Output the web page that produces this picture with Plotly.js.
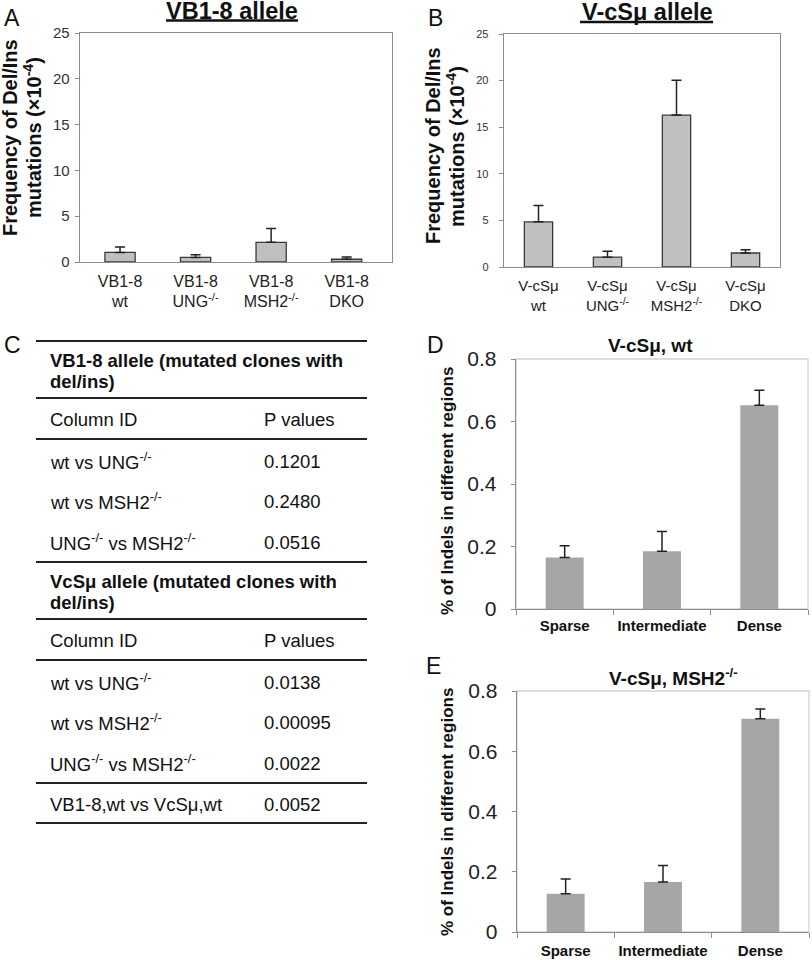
<!DOCTYPE html>
<html>
<head>
<meta charset="utf-8">
<script src="https://cdn.plot.ly/plotly-3.0.1.min.js"></script>
<style>html,body{margin:0;padding:0;background:#fff;}#chart{width:812px;height:960px;}</style>
</head>
<body>
<div id="chart"></div>
<script>
// ---------------- DATA ----------------
const catsA = ["VB1-8<br>wt", "VB1-8<br>UNG<sup>-/-</sup>", "VB1-8<br>MSH2<sup>-/-</sup>", "VB1-8<br>DKO"];
const valsA = [1.05, 0.5, 2.15, 0.3];
const errA  = [0.6, 0.28, 1.5, 0.25];

const catsB = ["V-cSμ<br>wt", "V-cSμ<br>UNG<sup>-/-</sup>", "V-cSμ<br>MSH2<sup>-/-</sup>", "V-cSμ<br>DKO"];
const valsB = [4.85, 1.05, 16.3, 1.5];
const errB  = [1.75, 0.65, 3.75, 0.35];

const regions = ["Sparse", "Intermediate", "Dense"];
const valsD = [0.165, 0.185, 0.652];
const errD  = [0.037, 0.063, 0.048];
const valsE = [0.127, 0.166, 0.708];
const errE  = [0.049, 0.055, 0.032];

const sec1Title = ["VB1-8 allele (mutated clones with", "del/ins)"];
const sec2Title = ["VcSμ allele (mutated clones with", "del/ins)"];
const colHeaders = ["Column ID", "P values"];
const comparisons = ["wt vs UNG<sup>-/-</sup>", "wt vs MSH2<sup>-/-</sup>", "UNG<sup>-/-</sup> vs MSH2<sup>-/-</sup>"];
const pvals1 = ["0.1201", "0.2480", "0.0516"];
const pvals2 = ["0.0138", "0.00095", "0.0022"];
const crossLabel = "VB1-8,wt vs VcSμ,wt";
const crossP = "0.0052";

// ---------------- HELPERS ----------------
const W = 812, H = 960;
const px = x => x / W;
const py = y => 1 - y / H;
const FONT = "Liberation Sans, Arial, Helvetica, sans-serif";
const zeros = n => new Array(n).fill(0);

function barTrace(x, y, err, xa, ya, opts) {
  return {
    type: "bar", x: x, y: y, xaxis: xa, yaxis: ya, width: opts.width,
    marker: { color: opts.color, line: { color: opts.lineColor, width: opts.lineWidth } },
    error_y: { type: "data", symmetric: false, array: err, arrayminus: zeros(err.length),
               color: "#222", thickness: 1.5, width: opts.cap },
    hoverinfo: "none", showlegend: false
  };
}

const data = [
  barTrace(catsA, valsA, errA, "x", "y", {width: 0.4, color: "#c0c0c0", lineColor: "#3a3a3a", lineWidth: 1.3, cap: 5}),
  barTrace(catsB, valsB, errB, "x2", "y2", {width: 0.41, color: "#c0c0c0", lineColor: "#3a3a3a", lineWidth: 1.3, cap: 5}),
  barTrace(regions, valsD, errD, "x3", "y3", {width: 0.39, color: "#a6a6a6", lineColor: "#a6a6a6", lineWidth: 0, cap: 5}),
  barTrace(regions, valsE, errE, "x4", "y4", {width: 0.39, color: "#a6a6a6", lineColor: "#a6a6a6", lineWidth: 0, cap: 5})
];

const frameAxis = {showline: true, mirror: true, linecolor: "#8c8c8c", linewidth: 1.3, showgrid: false, zeroline: false, fixedrange: true};

const layout = {
  width: W, height: H,
  margin: {l: 0, r: 0, t: 0, b: 0},
  paper_bgcolor: "#fff", plot_bgcolor: "rgba(0,0,0,0)",
  font: {family: FONT, color: "#111"},
  showlegend: false,
  bargap: 0.5,
  xaxis: Object.assign({}, frameAxis, {domain: [px(80), px(392)], anchor: "y", type: "category", range: [-0.53, 3.6],
    ticks: "", tickangle: 0, tickfont: {size: 16, color: "#222"}, ticklabelstandoff: 4}),
  yaxis: Object.assign({}, frameAxis, {domain: [py(262), py(33)], anchor: "x", range: [0, 25], dtick: 5,
    ticks: "outside", ticklen: 4, tickcolor: "#8c8c8c", tickfont: {size: 15, color: "#333"}, ticklabelstandoff: 2}),
  xaxis2: Object.assign({}, frameAxis, {domain: [px(504), px(780)], anchor: "y2", type: "category", range: [-0.5, 3.5],
    ticks: "", tickangle: 0, tickfont: {size: 15, color: "#222"}, ticklabelstandoff: 5}),
  yaxis2: Object.assign({}, frameAxis, {domain: [py(267), py(34)], anchor: "x2", range: [0, 25], dtick: 5,
    ticks: "outside", ticklen: 4, tickcolor: "#8c8c8c", tickfont: {size: 11, color: "#333"}, ticklabelstandoff: 8}),
  xaxis3: {domain: [px(516), px(808)], anchor: "y3", type: "category", range: [-0.5, 2.5], showline: true, linecolor: "#8c8c8c", linewidth: 1.3,
    ticks: "outside", tickson: "boundaries", ticklen: 5, tickcolor: "#8c8c8c", showgrid: false, zeroline: false, tickangle: 0,
    tickfont: {size: 15, color: "#111", weight: "bold"}, ticklabelstandoff: 3, fixedrange: true},
  yaxis3: {domain: [py(609), py(359)], anchor: "x3", range: [0, 0.8], dtick: 0.2, showline: true, linecolor: "#8c8c8c", linewidth: 1.3,
    ticks: "outside", ticklen: 4, tickcolor: "#8c8c8c", showgrid: false, zeroline: false,
    tickfont: {size: 21, color: "#222"}, ticklabelstandoff: 10, fixedrange: true},
  xaxis4: {domain: [px(517), px(809)], anchor: "y4", type: "category", range: [-0.5, 2.5], showline: true, linecolor: "#8c8c8c", linewidth: 1.3,
    ticks: "outside", tickson: "boundaries", ticklen: 5, tickcolor: "#8c8c8c", showgrid: false, zeroline: false, tickangle: 0,
    tickfont: {size: 15, color: "#111", weight: "bold"}, ticklabelstandoff: 5, fixedrange: true},
  yaxis4: {domain: [py(932), py(691)], anchor: "x4", range: [0, 0.8], dtick: 0.2, showline: true, linecolor: "#8c8c8c", linewidth: 1.3,
    ticks: "outside", ticklen: 4, tickcolor: "#8c8c8c", showgrid: false, zeroline: false,
    tickfont: {size: 21, color: "#222"}, ticklabelstandoff: 10, fixedrange: true},
  shapes: [],
  annotations: []
};

// light frame for D and E
[["x3", "y3"], ["x4", "y4"]].forEach(([xa, ya]) => {
  layout.shapes.push({type: "rect", xref: xa + " domain", yref: ya + " domain", x0: 0, x1: 1, y0: 0, y1: 1,
    line: {color: "#d4d4d4", width: 1.3}, layer: "below"});
});

function ann(text, x, y, o) {
  o = o || {};
  layout.annotations.push(Object.assign({
    text: text, x: px(x), y: py(y), xref: "paper", yref: "paper", showarrow: false,
    xanchor: "center", yanchor: "middle", font: {size: 18.5, color: "#111", family: FONT}
  }, o));
}

// panel letters
[["A", 12, 18], ["B", 435, 18], ["C", 12, 345], ["D", 435, 345], ["E", 434, 666]].forEach(([t, x, y]) =>
  ann(t, x, y, {font: {size: 23, color: "#111", family: FONT}}));

// titles
ann("<b>VB1-8 allele</b>", 232, 11, {font: {size: 23.5, color: "#111", family: FONT}});
ann("<b>V-cSμ allele</b>", 647, 12, {font: {size: 23.5, color: "#111", family: FONT}});
layout.shapes.push({type: "line", xref: "paper", yref: "paper", x0: px(166), x1: px(298), y0: py(20.5), y1: py(20.5), line: {color: "#111", width: 2.5}});
layout.shapes.push({type: "line", xref: "paper", yref: "paper", x0: px(580), x1: px(713), y0: py(22), y1: py(22), line: {color: "#111", width: 2.5}});
ann("<b>V-cSμ, wt</b>", 650, 345, {font: {size: 19, color: "#111", family: FONT}});
ann("<b>V-cSμ, MSH2<sup>-/-</sup></b>", 673, 677, {font: {size: 19, color: "#111", family: FONT}});

// y-axis titles
const yt = {textangle: -90, font: {size: 20, color: "#111", family: FONT}};
ann("<b>Frequency of Del/Ins</b>", 10, 138, yt);
ann("<b>mutations (×10<sup>-4</sup>)</b>", 32, 138, yt);
ann("<b>Frequency of Del/Ins</b>", 433, 146, yt);
ann("<b>mutations (×10<sup>-4</sup>)</b>", 455, 146, yt);
const yt2 = {textangle: -90, font: {size: 17, color: "#111", family: FONT}};
ann("<b>% of Indels in different regions</b>", 447, 491, yt2);
ann("<b>% of Indels in different regions</b>", 447, 812, yt2);

// table C
const TL = 48, TP = 262;
const left = {xanchor: "left"};
[341, 398, 439, 562, 619, 660, 783, 823].forEach(y =>
  layout.shapes.push({type: "line", xref: "paper", yref: "paper", x0: px(36), x1: px(367), y0: py(y), y1: py(y),
    line: {color: "#222", width: 2}}));
function section(titleLines, titleY, headY, rowYs, pvals) {
  titleLines.forEach((t, i) => ann("<b>" + t + "</b>", TL, titleY[i], left));
  ann(colHeaders[0], TL, headY, left);
  ann(colHeaders[1], TP, headY, left);
  comparisons.forEach((c, i) => {
    ann(c, TL, rowYs[i], left);
    ann(pvals[i], TP, rowYs[i], left);
  });
}
section(sec1Title, [360, 381], 419, [461, 501, 542], pvals1);
section(sec2Title, [581, 602], 640, [682, 722, 763], pvals2);
ann(crossLabel, TL, 804, left);
ann(crossP, TP, 804, left);

Plotly.newPlot("chart", data, layout, {displayModeBar: false, staticPlot: true});
</script>
</body>
</html>
